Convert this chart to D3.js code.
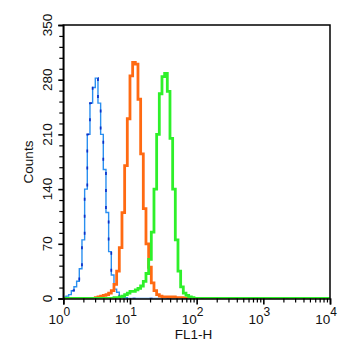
<!DOCTYPE html>
<html><head><meta charset="utf-8">
<script src="https://cdn.jsdelivr.net/npm/d3@7"></script>
<style>body{margin:0;background:#fff}svg{display:block}text{font-family:"Liberation Sans",Arial,sans-serif;fill:#111}</style>
</head><body><svg id="c" width="350" height="347"></svg>
<script>
// channel resolution (log10 decades per bin)
const binLog = 0.04;
// histogram counts; each series starts at the given bin index
const blueStart = 0;
const blueCounts = [1,3,5,10,15,22,38,75,140,210,250,270,282,250,210,165,110,60,30,12,8,2,1,1];
const orangeStart = 12;
const orangeCounts = [1,2,3,4,5,7,10,18,35,65,110,170,230,285,302,300,255,185,115,70,40,20,10,5,3,2,2,2,1,2,1,1,1];
const greenStart = 19;
const greenCounts = [1,1,2,3,5,7,9,9,11,13,16,22,32,50,85,140,210,262,284,288,265,205,140,75,35,15,7,4,2,1];
const yTicksMajor = [0,70,140,210,280,350];
const yTicksMinor = [14,28,42,56,84,98,112,126,154,168,182,196,224,238,252,266,294,308,322,336];
const xDecades = [1,10,100,1000,10000];
const xExponents = ["0","1","2","3","4"];

const svg = d3.select("#c");
const L = 63.3, R = 330, T = 25, B = 298.5;
const x = d3.scaleLog().domain([1,1e4]).range([L,R]);
const y = d3.scaleLinear().domain([0,350]).range([B,T]);

svg.append("clipPath").attr("id","clip").append("rect")
  .attr("x",L).attr("y",T-5).attr("width",R-L).attr("height",B-T+5);

function stepPoints(start, counts){
  const pts = [[1,0]];
  counts.forEach((v,i)=>pts.push([Math.pow(10,(start+i)*binLog), v]));
  pts.push([Math.pow(10,(start+counts.length)*binLog), 0]);
  pts.push([1e4,0]);
  return pts;
}
const line = d3.line().x(d=>x(d[0])).y(d=>y(d[1])).curve(d3.curveStepAfter);
const g = svg.append("g").attr("clip-path","url(#clip)");
g.append("path").attr("d",line(stepPoints(blueStart,blueCounts)))
  .attr("fill","none").attr("stroke","#2a8ff0").attr("stroke-width",1.4);
g.append("path").attr("d",line(stepPoints(blueStart,blueCounts)))
  .attr("fill","none").attr("stroke","#0b2fc8").attr("stroke-width",1.7).attr("stroke-dasharray","3,14");
g.append("path").attr("d",line(stepPoints(orangeStart,orangeCounts)))
  .attr("fill","none").attr("stroke","#ff6a12").attr("stroke-width",2.8);
g.append("path").attr("d",line(stepPoints(greenStart,greenCounts)))
  .attr("fill","none").attr("stroke","#2ef02a").attr("stroke-width",2.8);

// frame
svg.append("path").attr("d",`M${L},${B}V${T}H${R}V${B}`).attr("fill","none").attr("stroke","#000").attr("stroke-width",1.5);

// y axis
const yAx = svg.append("g").attr("transform",`translate(${L},0)`);
yAx.call(d3.axisLeft(y).tickValues(yTicksMinor).tickSize(4).tickFormat(""));
yAx.call(g2=>g2.select(".domain").remove());
const yMaj = svg.append("g").attr("transform",`translate(${L},0)`)
  .call(d3.axisLeft(y).tickValues(yTicksMajor).tickSize(5).tickFormat(""));
yMaj.select(".domain").attr("stroke-width",1.5);
yMaj.selectAll(".tick line").attr("stroke-width",1.6);
yAx.selectAll(".tick line").attr("stroke-width",1.2);
yTicksMajor.forEach(v=>{
  svg.append("text").attr("transform",`translate(51.5,${y(v)}) rotate(-90)`)
    .attr("text-anchor","middle").attr("font-size",13.5).text(v);
});
svg.append("text").attr("transform",`translate(33,162) rotate(-90)`)
  .attr("text-anchor","middle").attr("font-size",13.5).text("Counts");

// x axis
const xMinor = [];
xDecades.slice(0,4).forEach(d=>[2,3,4,5,6,7,8,9].forEach(m=>xMinor.push(d*m)));
const xAx = svg.append("g").attr("transform",`translate(0,${B})`)
  .call(d3.axisBottom(x).tickValues(xMinor).tickSize(4).tickFormat(""));
xAx.select(".domain").remove();
xAx.selectAll(".tick line").attr("stroke-width",1.2);
const xMaj = svg.append("g").attr("transform",`translate(0,${B})`)
  .call(d3.axisBottom(x).tickValues(xDecades).tickSize(6).tickFormat(""));
xMaj.select(".domain").attr("stroke-width",1.5);
xMaj.selectAll(".tick line").attr("stroke-width",1.6);
xDecades.forEach((d,i)=>{
  const t = svg.append("text").attr("x",x(d)-4).attr("y",323.5).attr("text-anchor","middle").attr("font-size",13.5);
  t.append("tspan").text("10");
  t.append("tspan").attr("dy",-8).attr("font-size",12).text(xExponents[i]);
});
svg.append("text").attr("x",193.5).attr("y",338.5).attr("text-anchor","middle").attr("font-size",13.5).text("FL1-H");
</script></body></html>
